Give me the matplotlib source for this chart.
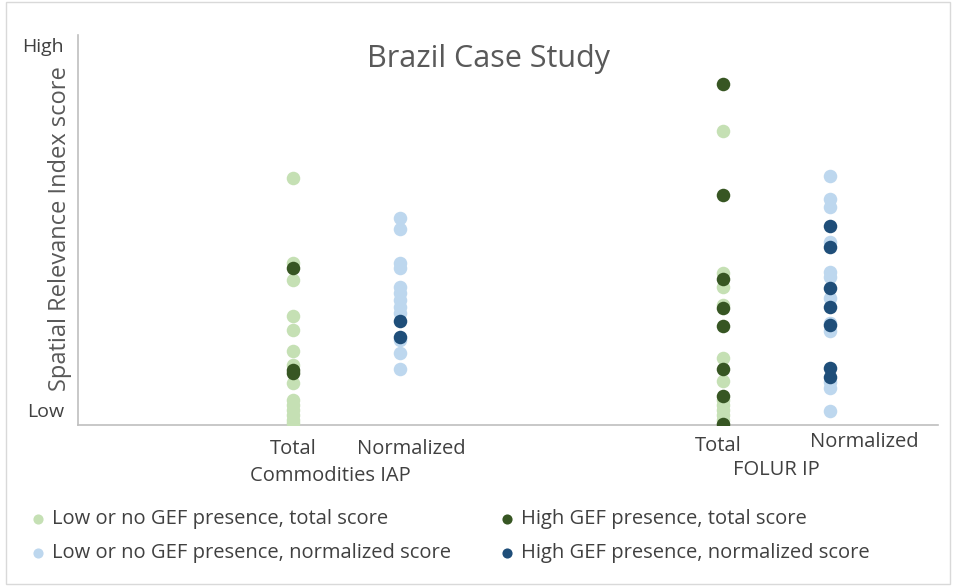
import numpy as np
import matplotlib.pyplot as plt
from matplotlib.patches import Rectangle

plt.rcParams['font.family'] = ['Open Sans', 'DejaVu Sans']

# x slots for each column of points
x_pos = {"iap_total": 2, "iap_norm": 3, "folur_total": 6, "folur_norm": 7}

# Spatial relevance scores (0 = low, 100 = high)
iap_total_low = [63.4, 41.5, 37.2, 28.0, 24.4, 19.1, 15.4, 10.7, 6.4, 5.1, 3.8, 2.6, 1.3, 0.5]
iap_total_high = [40.3, 14.1, 13.3]
iap_norm_low = [53.0, 50.3, 41.5, 40.2, 35.5, 33.8, 32.1, 30.3, 28.7, 21.8, 18.4, 14.3]
iap_norm_high = [26.7, 22.5]

folur_total_low = [75.4, 38.9, 35.5, 30.8, 17.3, 11.4, 6.4, 5.1, 3.8, 2.6, 1.3]
folur_total_high = [87.4, 59.0, 37.4, 29.9, 25.4, 14.3, 7.4, 0.2]
folur_norm_low = [63.9, 57.9, 55.8, 47.0, 39.3, 38.0, 32.5, 26.1, 24.2, 11.1, 9.4, 3.6]
folur_norm_high = [51.1, 45.7, 35.2, 30.2, 25.6, 14.5, 12.2]

light_green = "#C5E0B4"
dark_green = "#375623"
light_blue = "#BDD7EE"
dark_blue = "#1F4E79"

fig = plt.figure(figsize=(9.54, 5.86), dpi=100)
ax = fig.add_axes([0.0818, 0.2747, 0.9012, 0.6653])

def col(key, vals):
    return np.full(len(vals), x_pos[key]), np.array(vals)

ms = 95
h1 = ax.scatter(*col("iap_total", iap_total_low), s=ms, color=light_green, lw=0, zorder=2,
                label="Low or no GEF presence, total score")
ax.scatter(*col("folur_total", folur_total_low), s=ms, color=light_green, lw=0, zorder=2)
h2 = ax.scatter(*col("iap_total", iap_total_high), s=ms, color=dark_green, lw=0, zorder=3,
                label="High GEF presence, total score")
ax.scatter(*col("folur_total", folur_total_high), s=ms, color=dark_green, lw=0, zorder=3)
h3 = ax.scatter(*col("iap_norm", iap_norm_low), s=ms, color=light_blue, lw=0, zorder=2,
                label="Low or no GEF presence, normalized score")
ax.scatter(*col("folur_norm", folur_norm_low), s=ms, color=light_blue, lw=0, zorder=2)
h4 = ax.scatter(*col("iap_norm", iap_norm_high), s=ms, color=dark_blue, lw=0, zorder=3,
                label="High GEF presence, normalized score")
ax.scatter(*col("folur_norm", folur_norm_high), s=ms, color=dark_blue, lw=0, zorder=3)

ax.set_xlim(0, 8)
ax.set_ylim(0, 100)
for s in ["top", "right"]:
    ax.spines[s].set_visible(False)
for s in ["left", "bottom"]:
    ax.spines[s].set_color("#BFBFBF")
    ax.spines[s].set_linewidth(1.2)
    ax.spines[s].set_zorder(1)
ax.set_xticks([])
ax.set_yticks([3.8, 97.4])
ax.set_yticklabels(["Low", "High"], fontsize=14, color="#404040")
ax.tick_params(axis="y", length=0, pad=10)
ax.set_ylabel("Spatial Relevance Index score", fontsize=17, color="#595959")
ax.yaxis.set_label_coords(-0.007, 0.503)

ax.text(0.477, 0.94, "Brazil Case Study", transform=ax.transAxes, ha="center", va="center",
        fontsize=22, color="#595959")

# category labels under the axis
tc = "#404040"
fs = 14.5
lab = ax.get_xaxis_transform()
ax.text(x_pos["iap_total"], -0.035, "Total", transform=lab, ha="center", va="top", fontsize=fs, color=tc)
ax.text(x_pos["iap_norm"] + 0.1, -0.035, "Normalized", transform=lab, ha="center", va="top", fontsize=fs, color=tc)
ax.text(2.35, -0.105, "Commodities IAP", transform=lab, ha="center", va="top", fontsize=fs, color=tc)
ax.text(x_pos["folur_total"] - 0.04, -0.027, "Total", transform=lab, ha="center", va="top", fontsize=fs, color=tc)
ax.text(x_pos["folur_norm"] + 0.32, -0.017, "Normalized", transform=lab, ha="center", va="top", fontsize=fs, color=tc)
ax.text(6.5, -0.09, "FOLUR IP", transform=lab, ha="center", va="top", fontsize=fs, color=tc)

leg = fig.legend(handles=[h1, h3, h2, h4], ncol=2, loc="upper left",
                 bbox_to_anchor=(0.012, 0.162), frameon=False, fontsize=fs,
                 handlelength=0.8, handletextpad=0.3, columnspacing=2.4, labelspacing=0.68,
                 markerscale=0.75, labelcolor="#404040")

fig.patches.append(Rectangle((0.006, 0.003), 0.99, 0.994, transform=fig.transFigure,
                             fill=False, edgecolor="#D9D9D9", lw=1))

fig.savefig("out.png", dpi=100)
